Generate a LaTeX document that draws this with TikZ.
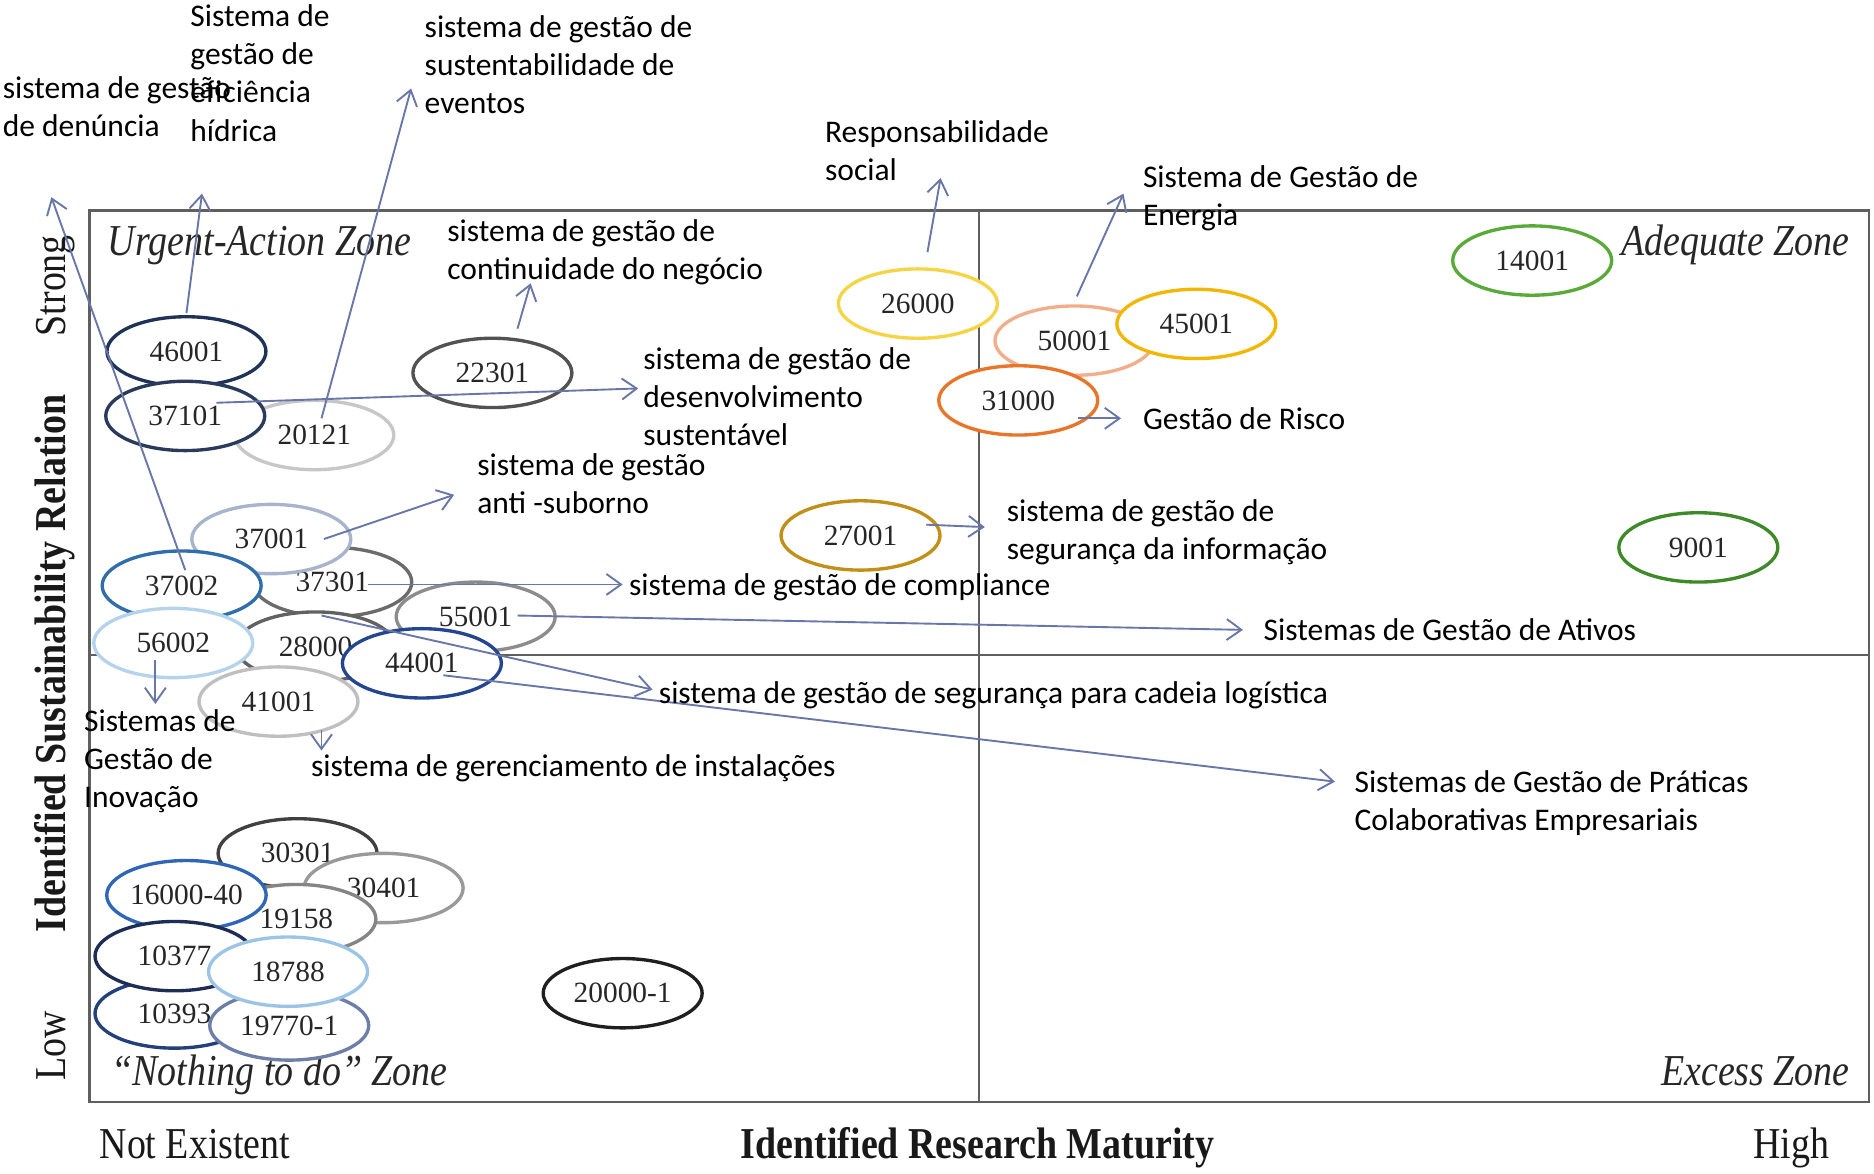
\documentclass[tikz,border=0pt]{standalone}
\usepackage{fontspec}
\setmainfont{Liberation Serif}
\newfontfamily\notefont{Carlito}
\usetikzlibrary{shapes.geometric,arrows.meta}

\definecolor{linkblue}{RGB}{104,118,168}
\definecolor{framegray}{RGB}{95,95,95}
\definecolor{navyA}{RGB}{31,51,88}
\definecolor{navyB}{RGB}{42,58,90}
\definecolor{navyC}{RGB}{30,45,85}
\definecolor{navyD}{RGB}{35,64,122}
\definecolor{blueA}{RGB}{47,110,170}
\definecolor{blueB}{RGB}{36,69,143}
\definecolor{blueC}{RGB}{48,102,184}
\definecolor{skyA}{RGB}{181,211,234}
\definecolor{skyB}{RGB}{156,196,230}
\definecolor{slateA}{RGB}{168,180,204}
\definecolor{slateB}{RGB}{109,127,168}
\definecolor{isoyellow}{RGB}{245,213,69}
\definecolor{isopeach}{RGB}{242,173,138}
\definecolor{isoamber}{RGB}{242,183,5}
\definecolor{isoorange}{RGB}{232,117,42}
\definecolor{isogold}{RGB}{194,143,24}
\definecolor{isogreen}{RGB}{90,170,58}
\definecolor{isodkgreen}{RGB}{63,138,40}

\begin{document}
\begin{tikzpicture}[x=0.2mm, y=-0.2mm,
    std/.style={ellipse, draw=#1, line width=1.6pt, fill=white, minimum width=2.66cm, minimum height=1.16cm, inner sep=0pt, text=black!85, font=\fontsize{14}{14}\selectfont},
    note/.style={anchor=base west, align=left, inner sep=0pt, font=\notefont\fontsize{15}{18.2}\selectfont},
    link/.style={draw=linkblue, line width=0.9pt, -{Straight Barb[length=7pt,width=10pt]}},
    zone/.style={inner sep=0pt, text=black!85, font=\itshape\fontsize{21}{21}\selectfont},
    axis/.style={inner sep=0pt, text=black!90, font=\fontsize{21}{21}\selectfont},
    frame/.style={draw=framegray, line width=1.1pt}]
      \useasboundingbox (0,0) rectangle (1568,982);

      % quadrants
      \draw[frame] (75,176) rectangle (1564,922);
      \draw[frame] (819,176) -- (819,922);
      \draw[frame] (75,548) -- (1564,548);

      \node[zone, anchor=base west] (z1) at (90,214) {\scalebox{0.86}[1]{Urgent-Action Zone}};
      \node[zone, anchor=base east] (z2) at (1548,214) {\scalebox{0.86}[1]{Adequate Zone}};
      \node[zone, anchor=base west] (z3) at (93,908) {\scalebox{0.86}[1]{``Nothing to do'' Zone}};
      \node[zone, anchor=base east] (z4) at (1548,908) {\scalebox{0.86}[1]{Excess Zone}};

      \node[axis, anchor=base, rotate=90] (a1) at (55,239) {\scalebox{0.86}[1]{Strong}};
      \node[axis, anchor=base, rotate=90] (a2) at (55,555) {\scalebox{0.86}[1]{\bfseries Identified Sustainability Relation}};
      \node[axis, anchor=base, rotate=90] (a3) at (55,875) {\scalebox{0.86}[1]{Low}};
      \node[axis, anchor=base west] (a4) at (83,969) {\scalebox{0.86}[1]{Not Existent}};
      \node[axis, anchor=base] (a5) at (818,969) {\scalebox{0.86}[1]{\bfseries Identified Research Maturity}};
      \node[axis, anchor=base east] (a6) at (1531,969) {\scalebox{0.86}[1]{High}};

      % standards, back to front
      \node[std=black!22] (s20121) at (263,364) {20121};
      \node[std=navyA]    (s46001) at (156,294) {46001};
      \node[std=navyB]    (s37101) at (155,348) {37101};
      \node[std=black!68] (s22301) at (412,312) {22301};
      \node[std=black!58] (s37301) at (278,487) {37301};
      \node[std=black!62] (s28000) at (264,541) {28000};
      \node[std=slateA]   (s37001) at (227,451) {37001};
      \node[std=blueA]    (s37002) at (152,490) {37002};
      \node[std=skyA]     (s56002) at (145,538) {56002};
      \node[std=black!45] (s55001) at (398,516) {55001};
      \node[std=blueB]    (s44001) at (353,555) {44001};
      \node[std=black!25] (s41001) at (233,587) {41001};

      \node[std=black!75] (s30301) at (249,714) {30301};
      \node[std=black!40] (s30401) at (321,743) {30401};
      \node[std=black!48] (s19158) at (248,769) {19158};
      \node[std=blueC]    (s16000) at (156,749) {16000-40};
      \node[std=navyD]    (s10393) at (146,848) {10393};
      \node[std=navyC]    (s10377) at (146,800) {10377};
      \node[std=slateB]   (s19770) at (242,858) {19770-1};
      \node[std=skyB]     (s18788) at (241,813) {18788};
      \node[std=black!88] (s20000) at (521,831) {20000-1};

      \node[std=isoyellow]  (s26000) at (768,254) {26000};
      \node[std=isopeach]   (s50001) at (899,285) {50001};
      \node[std=isoorange]  (s31000) at (852,335) {31000};
      \node[std=isoamber]   (s45001) at (1001,271) {45001};
      \node[std=isogold]    (s27001) at (720,448) {27001};
      \node[std=isogreen]   (s14001) at (1282,218) {14001};
      \node[std=isodkgreen] (s9001)  at (1421,458) {9001};

      % arrow tips
      \coordinate (e1) at (43,165);
      \coordinate (e2) at (169,162);
      \coordinate (e3) at (344,74);
      \coordinate (e4) at (444,237);
      \coordinate (e5) at (534,325);
      \coordinate (e6) at (380,414);
      \coordinate (e7) at (521,489);
      \coordinate (e8) at (1040,527);
      \coordinate (e9) at (546,577);
      \coordinate (e10) at (1117,654);
      \coordinate (e11) at (130,589);
      \coordinate (e12) at (269,628);
      \coordinate (e13) at (824,441);
      \coordinate (e14) at (787,149);
      \coordinate (e15) at (940,162);
      \coordinate (e16) at (938,350);

      \draw[link] ([shift={(3,-13)}]s37002.center) -- (e1);
      \draw[link] ([shift={(0,-32)}]s46001.center) -- (e2);
      \draw[link] ([shift={(6,-14)}]s20121.center) -- (e3);
      \draw[link] ([shift={(21,-37)}]s22301.center) -- (e4);
      \draw[link] ([shift={(26,-11)}]s37101.center) -- (e5);
      \draw[link] ([shift={(44,0)}]s37001.center) -- (e6);
      \draw[link] ([shift={(30,2)}]s37301.center) -- (e7);
      \draw[link] ([shift={(35,-1)}]s55001.center) -- (e8);
      \draw[link] ([shift={(5,-26)}]s28000.center) -- (e9);
      \draw[link] ([shift={(18,10)}]s44001.center) -- (e10);
      \draw[link] ([shift={(-15,14)}]s56002.center) -- (e11);
      \draw[link] ([shift={(36,24)}]s41001.center) -- (e12);
      \draw[link] ([shift={(55,-9)}]s27001.center) -- (e13);
      \draw[link] ([shift={(8,-43)}]s26000.center) -- (e14);
      \draw[link] ([shift={(2,-37)}]s50001.center) -- (e15);
      \draw[link] ([shift={(50,15)}]s31000.center) -- (e16);

      % labels (base = last line)
      \node[note] (t1) at (2,114) {sistema de gestão\\de denúncia};
      \node[note] (t2) at (159,118) {Sistema de\\gestão de\\eficiência\\hídrica};
      \node[note] (t3) at (355,95) {sistema de gestão de\\sustentabilidade de\\eventos};
      \node[note] (t4) at (374,234) {sistema de gestão de\\continuidade do negócio};
      \node[note] (t5) at (538,373) {sistema de gestão de\\desenvolvimento\\sustentável};
      \node[note] (t6) at (399,430) {sistema de gestão\\anti -suborno};
      \node[note] (t7) at (526,498) {sistema de gestão de compliance};
      \node[note] (t8) at (1057,536) {Sistemas de Gestão de Ativos};
      \node[note] (t9) at (551,589) {sistema de gestão de segurança para cadeia logística};
      \node[note] (t10) at (1133,695) {Sistemas de Gestão de Práticas\\Colaborativas Empresariais};
      \node[note] (t11) at (70,676) {Sistemas de\\Gestão de\\Inovação};
      \node[note] (t12) at (260,650) {sistema de gerenciamento de instalações};
      \node[note] (t13) at (842,468) {sistema de gestão de\\segurança da informação};
      \node[note] (t14) at (690,151) {Responsabilidade\\social};
      \node[note] (t15) at (956,189) {Sistema de Gestão de\\Energia};
      \node[note] (t16) at (956,359) {Gestão de Risco};
\end{tikzpicture}
\end{document}
